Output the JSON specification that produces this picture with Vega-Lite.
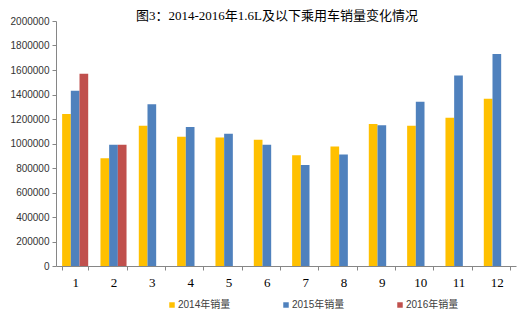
{
  "$schema": "https://vega.github.io/schema/vega-lite/v6.json",
  "autosize": {"type": "none"},
  "padding": {"left": 56, "top": 21, "right": 11, "bottom": 57},
  "width": 460,
  "height": 245,
  "background": "white",
  "title": {
    "text": "图3：2014-2016年1.6L及以下乘用车销量变化情况",
    "font": "Liberation Serif, Noto Sans CJK SC",
    "fontSize": 13,
    "fontWeight": "normal",
    "color": "#000000",
    "anchor": "middle",
    "dx": -9,
    "offset": -7
  },
  "data": {
    "values": [
      {"month": "1", "year": "2014年销量", "sales": 1240000},
      {"month": "1", "year": "2015年销量", "sales": 1430000},
      {"month": "1", "year": "2016年销量", "sales": 1570000},
      {"month": "2", "year": "2014年销量", "sales": 880000},
      {"month": "2", "year": "2015年销量", "sales": 990000},
      {"month": "2", "year": "2016年销量", "sales": 990000},
      {"month": "3", "year": "2014年销量", "sales": 1145000},
      {"month": "3", "year": "2015年销量", "sales": 1320000},
      {"month": "4", "year": "2014年销量", "sales": 1055000},
      {"month": "4", "year": "2015年销量", "sales": 1135000},
      {"month": "5", "year": "2014年销量", "sales": 1050000},
      {"month": "5", "year": "2015年销量", "sales": 1080000},
      {"month": "6", "year": "2014年销量", "sales": 1030000},
      {"month": "6", "year": "2015年销量", "sales": 990000},
      {"month": "7", "year": "2014年销量", "sales": 905000},
      {"month": "7", "year": "2015年销量", "sales": 825000},
      {"month": "8", "year": "2014年销量", "sales": 975000},
      {"month": "8", "year": "2015年销量", "sales": 910000},
      {"month": "9", "year": "2014年销量", "sales": 1160000},
      {"month": "9", "year": "2015年销量", "sales": 1150000},
      {"month": "10", "year": "2014年销量", "sales": 1145000},
      {"month": "10", "year": "2015年销量", "sales": 1340000},
      {"month": "11", "year": "2014年销量", "sales": 1210000},
      {"month": "11", "year": "2015年销量", "sales": 1555000},
      {"month": "12", "year": "2014年销量", "sales": 1365000},
      {"month": "12", "year": "2015年销量", "sales": 1730000}
    ]
  },
  "mark": {"type": "bar"},
  "encoding": {
    "x": {
      "field": "month",
      "type": "nominal",
      "sort": ["1","2","3","4","5","6","7","8","9","10","11","12"],
      "scale": {"paddingInner": 0.32, "paddingOuter": 0.16},
      "axis": {
        "title": null,
        "labelAngle": 0,
        "labelFont": "Liberation Serif",
        "labelFontSize": 13,
        "labelColor": "#000000",
        "labelPadding": 6,
        "tickBand": "extent",
        "tickSize": 4,
        "tickColor": "#868686",
        "domainColor": "#868686",
        "grid": false
      }
    },
    "xOffset": {
      "field": "year",
      "type": "nominal",
      "scale": {"domain": ["2014年销量", "2015年销量", "2016年销量"], "paddingInner": 0, "paddingOuter": 0}
    },
    "y": {
      "field": "sales",
      "type": "quantitative",
      "scale": {"domain": [0, 2000000], "nice": false},
      "axis": {
        "title": null,
        "values": [0,200000,400000,600000,800000,1000000,1200000,1400000,1600000,1800000,2000000],
        "format": "d",
        "labelFont": "Liberation Sans",
        "labelFontSize": 10,
        "labelColor": "#333333",
        "labelPadding": 3,
        "tickSize": 4,
        "tickColor": "#868686",
        "domainColor": "#868686",
        "grid": false
      }
    },
    "color": {
      "field": "year",
      "type": "nominal",
      "scale": {
        "domain": ["2014年销量", "2015年销量", "2016年销量"],
        "range": ["#FFC000", "#4F81BD", "#C0504D"]
      },
      "legend": {
        "title": null,
        "orient": "none",
        "direction": "horizontal",
        "columns": 3,
        "legendX": 111,
        "legendY": 279,
        "symbolType": "square",
        "symbolSize": 30,
        "symbolStrokeWidth": 0,
        "symbolOffset": 0,
        "labelOffset": 1,
        "labelFont": "Liberation Sans, Noto Sans CJK SC",
        "labelFontSize": 10,
        "labelColor": "#404040",
        "columnPadding": 50
      }
    }
  },
  "config": {
    "view": {"stroke": null},
    "axis": {"domainWidth": 1, "tickWidth": 1}
  }
}
